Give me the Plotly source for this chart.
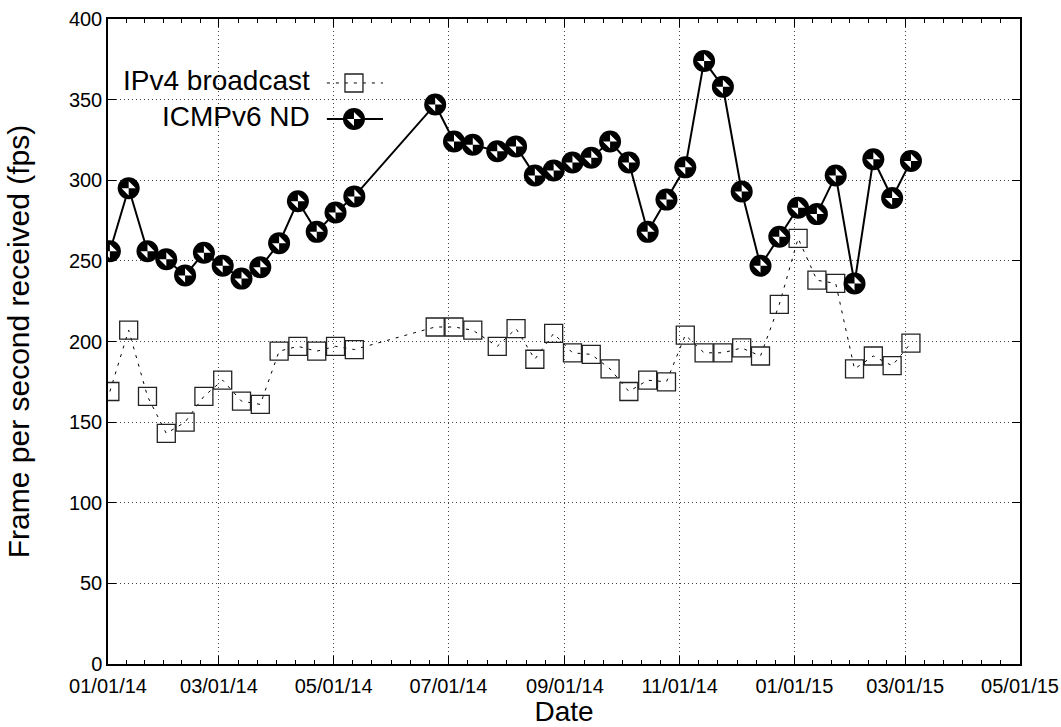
import plotly.graph_objects as go
import pandas as pd

# ---- data ----
dates = [
    "2014-01-02", "2014-01-12", "2014-01-22", "2014-02-01", "2014-02-11",
    "2014-02-21", "2014-03-03", "2014-03-13", "2014-03-23", "2014-04-02",
    "2014-04-12", "2014-04-22", "2014-05-02", "2014-05-12",
    "2014-06-24", "2014-07-04", "2014-07-14", "2014-07-27", "2014-08-06",
    "2014-08-16", "2014-08-26", "2014-09-05", "2014-09-15", "2014-09-25",
    "2014-10-05", "2014-10-15", "2014-10-25", "2014-11-04", "2014-11-14",
    "2014-11-24", "2014-12-04", "2014-12-14", "2014-12-24", "2015-01-03",
    "2015-01-13", "2015-01-23", "2015-02-02", "2015-02-12", "2015-02-22",
    "2015-03-04",
]
ipv4_broadcast = [
    169, 207, 166, 143, 150, 166, 176, 163, 161, 194, 197, 194, 197, 195,
    209, 209, 207, 197, 208, 189, 205, 193, 192, 183, 169, 176, 175, 204,
    193, 193, 196, 191, 223, 264, 238, 236, 183, 191, 185, 199,
]
icmpv6_nd = [
    256, 295, 256, 251, 241, 255, 247, 239, 246, 261, 287, 268, 280, 290,
    347, 324, 322, 318, 321, 303, 306, 311, 314, 324, 311, 268, 288, 308,
    374, 358, 293, 247, 265, 283, 279, 303, 236, 313, 289, 312,
]
series_names = ["IPv4 broadcast", "ICMPv6 ND"]
x_start, x_end = "2014-01-01", "2015-05-01"
y_min, y_max, y_step = 0, 400, 50
x_title = "Date"
y_title = "Frame per second received (fps)"

FONT = "Liberation Sans, Arial, Helvetica, sans-serif"

# ---- axis ticks (major every 2 months, 6 minor intervals between) ----
major = list(pd.date_range(x_start, x_end, freq="2MS"))
minor = []
for a, b in zip(major[:-1], major[1:]):
    for k in range(1, 6):
        minor.append(a + (b - a) * k / 6)

SQ = dict(symbol="square-open", size=18, color="#222",
          line=dict(width=1.3, color="#222"))
CIRC = dict(symbol="circle", size=22, color="black", line=dict(width=0))
QUAD = dict(symbol="bowtie", size=10, color="white", angle=-45,
            line=dict(width=0))

fig = go.Figure()

# IPv4 broadcast: dashed thin line with open squares
fig.add_trace(go.Scatter(
    x=dates, y=ipv4_broadcast, mode="lines+markers", name=series_names[0],
    line=dict(color="black", width=1, dash="3px,6px"),
    marker=SQ, showlegend=False,
))

# ICMPv6 ND: solid line with black quadrant circles
fig.add_trace(go.Scatter(
    x=dates, y=icmpv6_nd, mode="lines+markers", name=series_names[1],
    line=dict(color="black", width=2), marker=CIRC, showlegend=False,
))
fig.add_trace(go.Scatter(
    x=dates, y=icmpv6_nd, mode="markers", name=series_names[1],
    marker=QUAD, showlegend=False, hoverinfo="skip",
))

# ---- legend (gnuplot style: text then sample) on an overlay axis ----
leg_x = [0.240, 0.2697, 0.3015]
leg_rows = [0.9008, 0.845]
fig.add_trace(go.Scatter(
    x=[leg_x[0], leg_x[2]], y=[leg_rows[0]] * 2, xaxis="x2", yaxis="y2",
    mode="lines", line=dict(color="black", width=1, dash="3px,6px"),
    showlegend=False, hoverinfo="skip",
))
fig.add_trace(go.Scatter(
    x=[leg_x[1]], y=[leg_rows[0]], xaxis="x2", yaxis="y2", mode="markers",
    marker=SQ, showlegend=False, hoverinfo="skip",
))
fig.add_trace(go.Scatter(
    x=[leg_x[0], leg_x[2]], y=[leg_rows[1]] * 2, xaxis="x2", yaxis="y2",
    mode="lines", line=dict(color="black", width=2),
    showlegend=False, hoverinfo="skip",
))
fig.add_trace(go.Scatter(
    x=[leg_x[1]], y=[leg_rows[1]], xaxis="x2", yaxis="y2", mode="markers",
    marker=CIRC, showlegend=False, hoverinfo="skip",
))
fig.add_trace(go.Scatter(
    x=[leg_x[1]], y=[leg_rows[1]], xaxis="x2", yaxis="y2", mode="markers",
    marker=QUAD, showlegend=False, hoverinfo="skip",
))
for name, yy in zip(series_names, leg_rows):
    fig.add_annotation(
        text=name, xref="paper", yref="paper", x=0.2237, y=yy,
        xanchor="right", yanchor="middle", showarrow=False, yshift=2,
        font=dict(family=FONT, size=28, color="black"),
    )

grid = dict(showgrid=True, gridcolor="#444", gridwidth=1, griddash="1px,3px")

fig.update_layout(
    width=1061, height=727,
    margin=dict(l=108, r=41, t=19, b=63, autoexpand=False),
    paper_bgcolor="white", plot_bgcolor="white",
    font=dict(family=FONT, size=20, color="black"),
    xaxis=dict(
        type="date", range=[x_start, x_end], automargin=False,
        tickmode="array", tickvals=major, tickformat="%m/%d/%y",
        ticks="inside", ticklen=8, tickwidth=1, tickcolor="black",
        ticklabelstandoff=3,
        minor=dict(tickmode="array", tickvals=minor, ticks="inside",
                   ticklen=4, tickwidth=1, tickcolor="black", showgrid=False),
        showline=True, linecolor="black", linewidth=1.5, mirror="ticks",
        zeroline=False,
        title=dict(text=x_title, font=dict(family=FONT, size=28), standoff=0),
        tickfont=dict(family=FONT, size=20),
        **grid,
    ),
    yaxis=dict(
        range=[y_min, y_max], tickmode="linear", tick0=y_min, dtick=y_step,
        automargin=False,
        ticks="inside", ticklen=8, tickwidth=1, tickcolor="black",
        showline=True, linecolor="black", linewidth=1.5, mirror="ticks",
        zeroline=False,
        title=dict(text=y_title, font=dict(family=FONT, size=30), standoff=30),
        tickfont=dict(family=FONT, size=20),
        **grid,
    ),
    xaxis2=dict(overlaying="x", anchor="y2", range=[0, 1], visible=False,
                fixedrange=True),
    yaxis2=dict(overlaying="y", anchor="x2", range=[0, 1], visible=False,
                fixedrange=True),
)

fig.write_html(
    "out.html",
    config={"displayModeBar": False},
    post_script="document.body.style.margin='0px';"
                "document.body.style.overflow='hidden';",
)
